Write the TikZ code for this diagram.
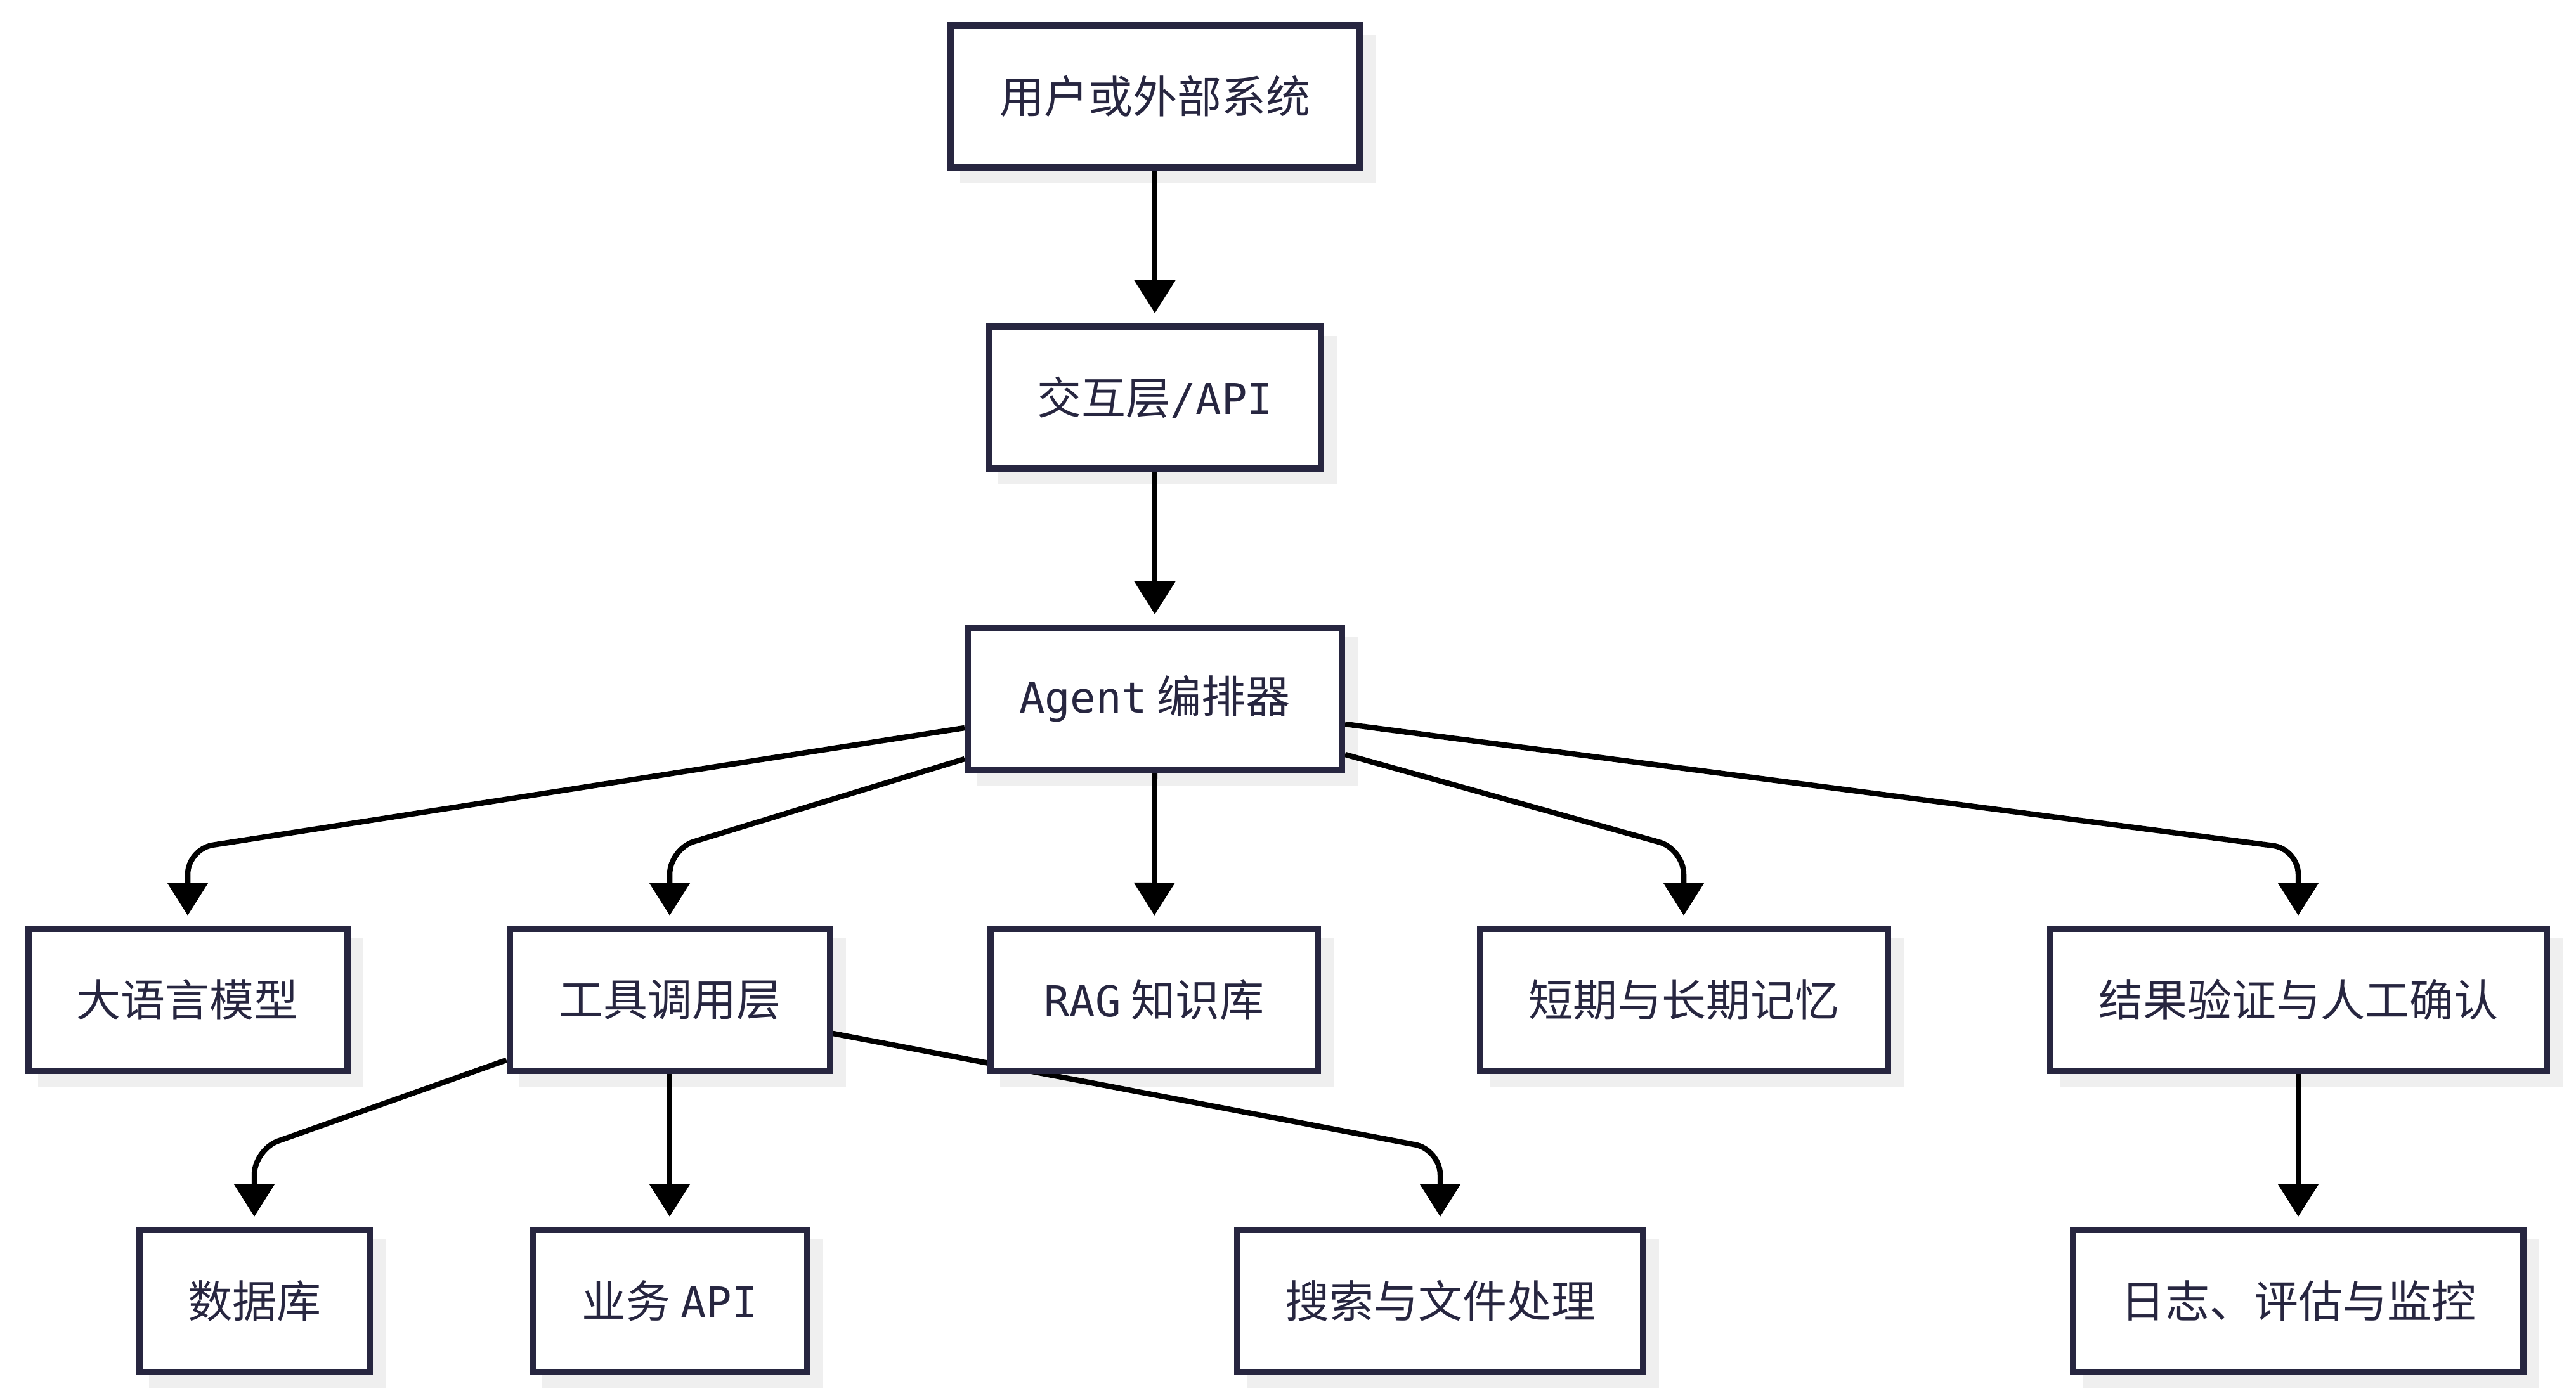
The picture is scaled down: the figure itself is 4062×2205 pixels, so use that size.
\documentclass[tikz,border=0pt]{standalone}
\usepackage{fontspec}
\setmainfont{Noto Sans CJK SC}
\newfontfamily\lat{DejaVu Sans Mono}[Scale=0.96]
\usetikzlibrary{arrows.meta,calc}
\definecolor{ink}{HTML}{272640}
\definecolor{shadowgray}{HTML}{EFEFEF}
\pgfdeclarelayer{bg}
\pgfdeclarelayer{edges}
\pgfsetlayers{bg,edges,main}
\begin{document}
\begin{tikzpicture}[x=0.25pt,y=-0.25pt,
  box/.style={draw=ink, line width=2.5pt, fill=white, minimum height=56pt,
    inner sep=0pt, text=ink, font=\fontsize{17.5pt}{21pt}\selectfont},
  edge/.style={draw=black, line width=2.125pt, rounded corners=10pt,
    -{Triangle[width=15.75pt,length=13pt]}, shorten >=4pt}]
\useasboundingbox (0,0) rectangle (4062,2205);
% row 1-3
\node[box, minimum width=161.25pt] (user) at (1821,152) {用户或外部系统};
\node[box, minimum width=131pt] (api) at (1821,627) {交互层{\lat/API}};
\node[box, minimum width=147.5pt] (agent) at (1821,1102) {{\lat Agent} 编排器};
% row 4
\node[box, minimum width=125.75pt] (llm) at (296,1577) {大语言模型};
\node[box, minimum width=126.25pt] (tool) at (1056,1577) {工具调用层};
\node[box, minimum width=129pt] (rag) at (1820,1577) {{\lat RAG} 知识库};
\node[box, minimum width=160.75pt] (mem) at (2655,1577) {短期与长期记忆};
\node[box, minimum width=195.75pt] (ver) at (3624,1577) {结果验证与人工确认};
% row 5
\node[box, minimum width=90.75pt] (db) at (401,2052) {数据库};
\node[box, minimum width=108.25pt] (biz) at (1056,2052) {业务 {\lat API}};
\node[box, minimum width=160pt] (search) at (2271,2052) {搜索与文件处理};
\node[box, minimum width=177.5pt] (log) at (3624,2052) {日志、评估与监控};
% shadows
\begin{pgfonlayer}{bg}
\foreach \n in {user,api,agent,llm,tool,rag,mem,ver,db,biz,search,log}
  \fill[shadowgray] ($(\n.north west)+(20,20)$) rectangle ($(\n.south east)+(20,20)$);
\end{pgfonlayer}
% edges
\begin{pgfonlayer}{edges}
\draw[edge] (user) -- (api);
\draw[edge] (api) -- (agent);
\draw[edge] ($(agent.west)+(0,46)$) -- (llm.north |- 0,1339) -- (llm.north);
\draw[edge] ($(agent.west)+(0,95)$) -- (tool.north |- 0,1339) -- (tool.north);
\draw[edge] (agent) -- (rag);
\draw[edge] ($(agent.east)+(0,88)$) -- (mem.north |- 0,1339) -- (mem.north);
\draw[edge] ($(agent.east)+(0,40)$) -- (ver.north |- 0,1339) -- (ver.north);
\draw[edge] ($(tool.west)+(0,95)$) -- (db.north |- 0,1813) -- (db.north);
\draw[edge] (tool) -- (biz);
\draw[edge] ($(tool.east)+(0,53)$) -- (search.north |- 0,1813) -- (search.north);
\draw[edge] (ver) -- (log);
\end{pgfonlayer}
\end{tikzpicture}
\end{document}
